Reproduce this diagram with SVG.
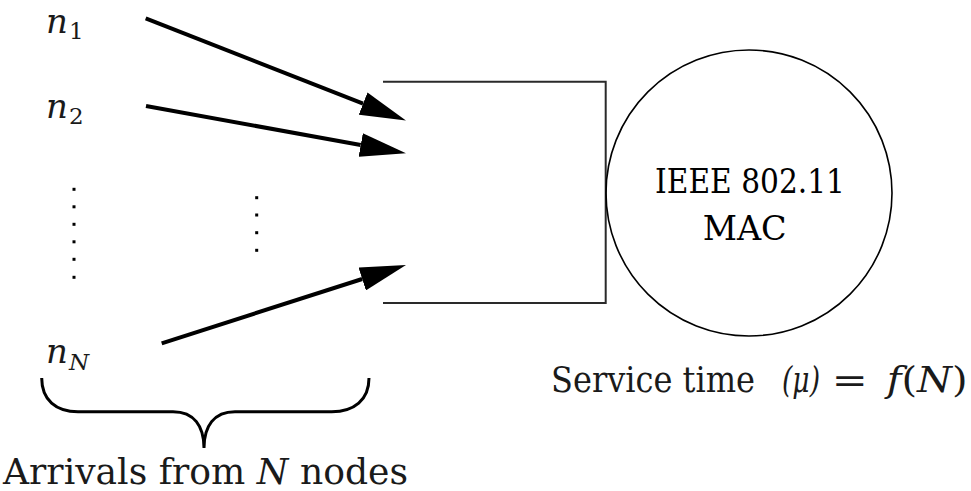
<svg xmlns="http://www.w3.org/2000/svg" width="971" height="491" viewBox="0 0 971 491">
  <style>
    text { font-family: 'DejaVu Serif', 'Liberation Serif', serif; fill: #1a1a1a; }
    .it { font-style: italic; }
    .lbl { font-size: 35px; }
    .mac { font-size: 33px; fill: #000; }
    .arrow { fill: none; stroke: #000; stroke-width: 4; marker-end: url(#head); }
    .dot { fill: #000; }
  </style>
  <defs>
    <marker id="head" markerUnits="userSpaceOnUse" markerWidth="46" markerHeight="24" viewBox="0 0 46 24" refX="0" refY="12" orient="auto">
      <path d="M0,0 L46,12 L0,24 z" fill="#000"/>
    </marker>
  </defs>

  <rect width="971" height="491" fill="#fff"/>

  <!-- source nodes -->
  <g id="node-n1">
    <text class="it" x="46" y="33" font-size="34">n</text>
    <text x="69" y="39" font-size="23">1</text>
  </g>
  <g id="node-n2">
    <text class="it" x="46" y="118" font-size="34">n</text>
    <text x="69" y="124" font-size="23">2</text>
  </g>
  <g id="node-nN">
    <text class="it" x="46" y="363" font-size="34">n</text>
    <text class="it" x="69" y="370" font-size="23">N</text>
  </g>

  <!-- vertical ellipsis between sources -->
  <g id="dots-sources">
    <rect class="dot" x="72.5" y="187.8" width="3" height="3"/>
    <rect class="dot" x="72.5" y="205.3" width="3" height="3"/>
    <rect class="dot" x="72.5" y="222.8" width="3" height="3"/>
    <rect class="dot" x="72.5" y="240.3" width="3" height="3"/>
    <rect class="dot" x="72.5" y="257.8" width="3" height="3"/>
    <rect class="dot" x="72.5" y="275.8" width="3" height="3"/>
  </g>
  <g id="dots-arrows">
    <rect class="dot" x="255.2" y="196.2" width="3" height="3"/>
    <rect class="dot" x="255.2" y="213.5" width="3" height="3"/>
    <rect class="dot" x="255.2" y="231.2" width="3" height="3"/>
    <rect class="dot" x="255.2" y="248.8" width="3" height="3"/>
  </g>

  <!-- queue buffer (open on the left) -->
  <g id="queue">
    <path d="M383,81.7 H605.7 V303 H383" fill="none" stroke="#2a2a2a" stroke-width="2"/>
  </g>

  <!-- server -->
  <g id="server">
    <circle cx="749" cy="193" r="143" fill="none" stroke="#000" stroke-width="1.6"/>
    <text class="mac" x="655" y="193.3" textLength="190" lengthAdjust="spacingAndGlyphs">IEEE 802.11</text>
    <text class="mac" x="702.7" y="240" textLength="84" lengthAdjust="spacingAndGlyphs">MAC</text>
  </g>

  <!-- arrivals -->
  <g id="connectors">
    <path class="arrow" d="M145.7,18.3 L363.1,103.6"/>
    <path class="arrow" d="M146,106 L360.7,145"/>
    <path class="arrow" d="M161.7,343.3 L362.2,279"/>
  </g>

  <!-- brace under the sources -->
  <g id="brace">
    <path d="M41.7,378 C41.7,400 56,411.7 78,411.7 L173,411.7 C194,411.7 204,426 204,448 C204,426 214,411.7 235,411.7 L331.7,411.7 C354,411.7 369,400 369,378" fill="none" stroke="#000" stroke-width="3"/>
  </g>

  <g id="label-arrivals">
    <text class="lbl" x="3" y="484" textLength="405" lengthAdjust="spacingAndGlyphs">Arrivals from <tspan class="it">N</tspan> nodes</text>
  </g>

  <g id="label-service">
    <text class="lbl" x="551" y="391.7" textLength="204" lengthAdjust="spacingAndGlyphs">Service time</text>
    <text class="lbl it" x="782" y="391.7" textLength="38" lengthAdjust="spacingAndGlyphs">(μ)</text>
    <text class="lbl" x="831.7" y="391.7" textLength="36" lengthAdjust="spacingAndGlyphs">=</text>
    <text class="lbl" x="886.7" y="391.7" textLength="81" lengthAdjust="spacingAndGlyphs"><tspan class="it">f</tspan>(<tspan class="it">N</tspan>)</text>
  </g>
</svg>
